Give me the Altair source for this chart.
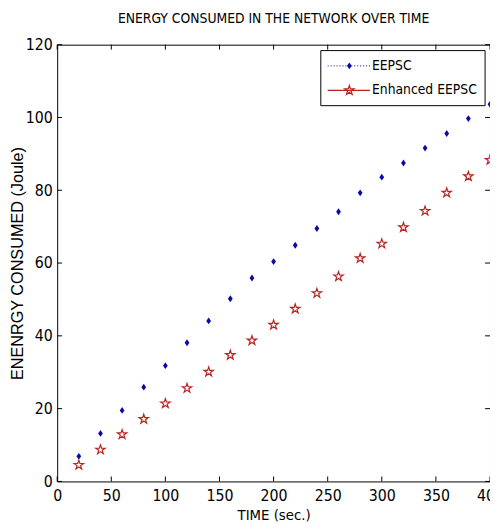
import altair as alt
import pandas as pd

time = [20, 40, 60, 80, 100, 120, 140, 160, 180, 200, 220, 240, 260, 280, 300, 320, 340, 360, 380, 400]
eepsc = [6.9, 13.2, 19.5, 25.9, 31.8, 38.1, 44.1, 50.2, 55.9, 60.4, 64.9, 69.5, 74.1, 79.3, 83.6, 87.5, 91.6, 95.6, 99.7, 103.6]
enhanced = [4.5, 8.7, 12.9, 17.1, 21.4, 25.6, 30.1, 34.7, 38.7, 43.0, 47.4, 51.7, 56.3, 61.3, 65.3, 69.8, 74.3, 79.3, 83.8, 88.3]
x_ticks = [0, 50, 100, 150, 200, 250, 300, 350, 400]
y_ticks = [0, 20, 40, 60, 80, 100, 120]
series_names = ["EEPSC", "Enhanced EEPSC"]

NARROW = "DejaVu Sans Condensed, Liberation Sans, Arial"
REG = "Liberation Sans, Arial, Helvetica"
BLUE = "#0a0aa8"
RED = "#bb2222"
STAR = "M0,-1L0.2245,-0.309L0.951,-0.309L0.363,0.118L0.588,0.809L0,0.382L-0.588,0.809L-0.363,0.118L-0.951,-0.309L-0.2245,-0.309Z"
DIAM = "M0,-1L0.7,0L0,1L-0.7,0Z"

W, H = 440, 444

df = pd.DataFrame({"time": time, "eepsc": eepsc, "enhanced": enhanced})

xs = alt.Scale(domain=[0, 400], nice=False, zero=False)
ys = alt.Scale(domain=[0, 120], nice=False, zero=False)

base = alt.Chart(df)

blue_pts = base.mark_point(shape=DIAM, filled=True, color=BLUE, size=48, opacity=1).encode(
    x=alt.X("time:Q", scale=xs,
            axis=alt.Axis(values=x_ticks, title="TIME (sec.)", labelFlush=False, labelOverlap=False,
                          labelPadding=6, titlePadding=5)),
    y=alt.Y("eepsc:Q", scale=ys,
            axis=alt.Axis(values=y_ticks, title="ENENRGY CONSUMED (Joule)", labelPadding=5,
                          titleX=-40, titleY=H / 2, titleBaseline="middle",
                          titleFont=REG, titleFontSize=16.5)),
)
red_pts = base.mark_point(shape=STAR, filled=False, color=RED, size=100, strokeWidth=1.2, opacity=1).encode(
    x=alt.X("time:Q", scale=xs),
    y=alt.Y("enhanced:Q", scale=ys),
)

xt = pd.DataFrame({"v": x_ticks})
yt = pd.DataFrame({"v": y_ticks})
tick_b = alt.Chart(xt).mark_rule(color="black", strokeWidth=1).encode(
    x=alt.X("v:Q", scale=xs), y=alt.value(H), y2=alt.value(H - 5))
tick_t = alt.Chart(xt).mark_rule(color="black", strokeWidth=1).encode(
    x=alt.X("v:Q", scale=xs), y=alt.value(0), y2=alt.value(5))
tick_l = alt.Chart(yt).mark_rule(color="black", strokeWidth=1).encode(
    y=alt.Y("v:Q", scale=ys), x=alt.value(0), x2=alt.value(5))
tick_r = alt.Chart(yt).mark_rule(color="black", strokeWidth=1).encode(
    y=alt.Y("v:Q", scale=ys), x=alt.value(W), x2=alt.value(W - 5))

one = pd.DataFrame({"a": [0]})
leg_box = alt.Chart(one).mark_rect(fill="white", stroke="black", strokeWidth=1).encode(
    x=alt.value(268), x2=alt.value(435), y=alt.value(6), y2=alt.value(62))
leg_l1 = alt.Chart(one).mark_rule(color=BLUE, strokeDash=[1, 2], strokeWidth=1).encode(
    x=alt.value(275), x2=alt.value(318), y=alt.value(21.5))
leg_l2 = alt.Chart(one).mark_rule(color=RED, strokeWidth=1.2).encode(
    x=alt.value(275), x2=alt.value(318), y=alt.value(46.5))
leg_m1 = alt.Chart(one).mark_point(shape=DIAM, filled=True, color=BLUE, size=48, opacity=1).encode(
    x=alt.value(297), y=alt.value(21.5))
leg_m2 = alt.Chart(one).mark_point(shape=STAR, filled=False, color=RED, size=100, strokeWidth=1.2, opacity=1).encode(
    x=alt.value(297), y=alt.value(46.5))
leg_t1 = alt.Chart(pd.DataFrame({"t": [series_names[0]]})).mark_text(
    font=NARROW, fontSize=14, align="left", baseline="middle", color="black").encode(
    text="t:N", x=alt.value(320), y=alt.value(21.5))
leg_t2 = alt.Chart(pd.DataFrame({"t": [series_names[1]]})).mark_text(
    font=NARROW, fontSize=14, align="left", baseline="middle", color="black").encode(
    text="t:N", x=alt.value(320), y=alt.value(46.5))

chart = alt.layer(
    tick_b, tick_t, tick_l, tick_r, blue_pts, red_pts,
    leg_box, leg_l1, leg_l2, leg_m1, leg_m2, leg_t1, leg_t2,
).properties(
    width=W, height=H,
    title=alt.TitleParams("ENERGY CONSUMED IN THE NETWORK OVER TIME", font=NARROW, fontSize=14,
                          fontWeight="normal", color="black", anchor="middle", offset=11),
    autosize=alt.AutoSizeParams(type="none"),
    padding={"left": 50, "top": 33, "right": 0, "bottom": 40},
    background="white",
).configure_view(
    stroke="black", strokeWidth=1
).configure_axis(
    grid=False, ticks=False, domain=False,
    labelFont=NARROW, labelFontSize=16, labelColor="black",
    titleFont=NARROW, titleFontSize=15, titleColor="black", titleFontWeight="normal",
)

chart.save("out.html", embed_options={"renderer": "svg", "actions": False})
